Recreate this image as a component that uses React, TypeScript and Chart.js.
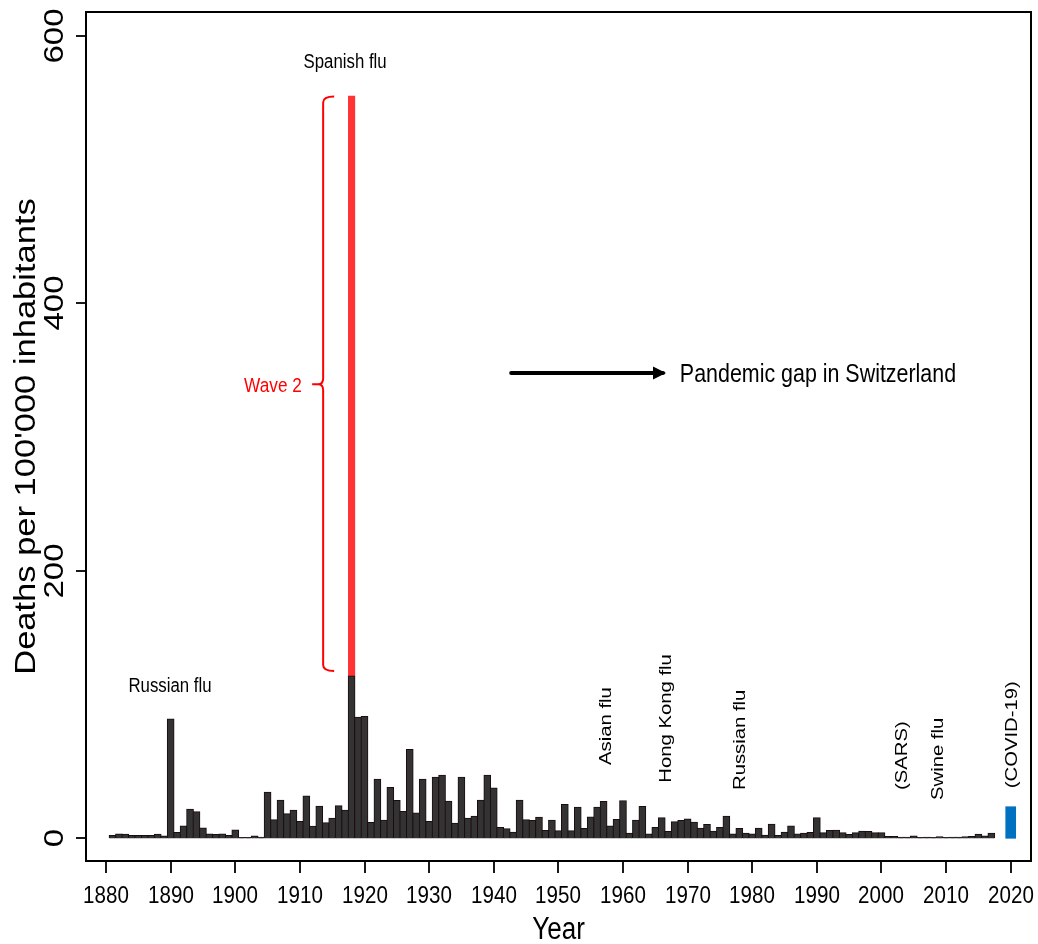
import React, { useEffect, useRef } from 'react';
import { Chart, registerables } from 'chart.js';

Chart.register(...registerables);

// ---- Data ----
const firstYear = 1881;
// Influenza deaths per 100'000 inhabitants, 1881 .. 2017
const deaths = [
  2, 3.2, 3, 2, 2, 2, 2, 3, 1.7, 89, // 1881-1890
  4.2, 9.2, 21.7, 19.7, 7.7, 3.2, 2.7, 3.2, 2, 6.2, // 1891-1900
  0.5, 0.5, 1.7, 0.7, 34.4, 13.7, 28.4, 18.2, 20.9, 12.5, // 1901-1910
  31.6, 9, 23.9, 11.5, 15, 24.2, 20.9, 121.3, 90.4, 90.9, // 1911-1920
  11.7, 44, 13.4, 37.9, 28.1, 19.9, 66.3, 18.9, 44, 12.5, // 1921-1930
  45.6, 47.1, 27.6, 11.2, 45.6, 15, 16.4, 28.4, 47.1, 37.6, // 1931-1940
  8, 7, 4.5, 28.4, 13.7, 13.2, 15.7, 5.7, 13.4, 5.5, // 1941-1950
  25.2, 5.5, 23.2, 7.2, 15.9, 23.2, 27.4, 9.2, 13.9, 27.9, // 1951-1960
  3.7, 13.4, 23.7, 3.2, 8, 15.2, 5, 12.2, 13.2, 14.4, // 1961-1970
  12, 7.5, 10.2, 5.2, 8, 16.4, 3.2, 7.2, 3.7, 3.2, // 1971-1980
  7.5, 2.2, 10.5, 2, 4.5, 9.2, 3.2, 3.7, 4.2, 15.2, // 1981-1990
  4, 5.7, 6, 4, 2.7, 4, 5.2, 5, 4, 4, // 1991-2000
  1.2, 1.2, 0.7, 0.7, 1.7, 0.5, 0.7, 0.5, 1, 0.5, // 2001-2010
  0.7, 0.7, 1, 1.2, 3, 1.7, 3.7, // 2011-2017
];
const wave2Year = 1918;
const wave2Deaths = 433.5;
const covidYear = 2020;
const covidDeaths = 23.6;

const xTicks = [1880, 1890, 1900, 1910, 1920, 1930, 1940, 1950, 1960, 1970, 1980, 1990, 2000, 2010, 2020];
const yTicks = [0, 200, 400, 600];

const years = deaths.map((_, i) => firstYear + i);

// Annotations (data coordinates)
const flatLabels = [
  { text: 'Spanish flu', x: 1917, y: 576, align: 'center' as CanvasTextAlign, color: '#000', size: 20 },
  { text: 'Russian flu', x: 1889.9, y: 109.6, align: 'center' as CanvasTextAlign, color: '#000', size: 20 },
  { text: 'Wave 2', x: 1910.3, y: 333.8, align: 'right' as CanvasTextAlign, color: '#ff0000', size: 20.5 },
  { text: 'Pandemic gap in Switzerland', x: 1968.8, y: 341, align: 'left' as CanvasTextAlign, color: '#000', size: 25.5 },
];
const rotLabels = [
  { text: 'Asian flu', x: 1958.2, y: 54.8 },
  { text: 'Hong Kong flu', x: 1967.5, y: 41.6 },
  { text: 'Russian flu', x: 1978.9, y: 36.1 },
  { text: '(SARS)', x: 2003.9, y: 36.1 },
  { text: 'Swine flu', x: 2009.5, y: 28.6 },
  { text: '(COVID-19)', x: 2021.0, y: 37.4 },
];

const SQ = 0.84;
const FONT = '"Liberation Sans", Arial, Helvetica, sans-serif';

function drawText(
  ctx: CanvasRenderingContext2D,
  s: string,
  x: number,
  y: number,
  size: number,
  align: CanvasTextAlign,
  color: string,
  rot = false,
  baseline: CanvasTextBaseline = 'alphabetic'
) {
  ctx.save();
  ctx.translate(x, y);
  ctx.scale(SQ, 1);
  if (rot) ctx.rotate(-Math.PI / 2);
  ctx.font = `${size}px ${FONT}`;
  ctx.fillStyle = color;
  ctx.textAlign = align;
  ctx.textBaseline = baseline;
  ctx.fillText(s, 0, 0);
  ctx.restore();
}

const decorPlugin = {
  id: 'decor',
  afterDraw(chart: any) {
    const ctx: CanvasRenderingContext2D = chart.ctx;
    const xs = chart.scales.x;
    const ys = chart.scales.y;
    const { left, right, top, bottom } = chart.chartArea;
    const X = (v: number) => xs.getPixelForValue(v);
    const Y = (v: number) => ys.getPixelForValue(v);

    ctx.save();
    // box
    ctx.strokeStyle = '#000';
    ctx.lineWidth = 2;
    ctx.strokeRect(left, top, right - left, bottom - top);

    // x ticks
    ctx.lineWidth = 1.8;
    xTicks.forEach((t) => {
      const px = Math.round(X(t));
      ctx.beginPath();
      ctx.moveTo(px, bottom);
      ctx.lineTo(px, bottom + 12);
      ctx.stroke();
      drawText(ctx, String(t), px, bottom + 42, 24.5, 'center', '#000');
    });
    // y ticks
    yTicks.forEach((t) => {
      const py = Math.round(Y(t));
      ctx.beginPath();
      ctx.moveTo(left - 10, py);
      ctx.lineTo(left, py);
      ctx.stroke();
      drawText(ctx, String(t), left - 23, py, 33, 'center', '#000', true);
    });
    // axis titles
    drawText(ctx, 'Year', (left + right) / 2, bottom + 78, 31, 'center', '#000');
    drawText(ctx, "Deaths per 100'000 inhabitants", 35, (top + bottom) / 2, 34.5, 'center', '#000', true);

    // annotations
    flatLabels.forEach((l) => drawText(ctx, l.text, X(l.x), Y(l.y), l.size, l.align, l.color));
    rotLabels.forEach((l) => drawText(ctx, l.text, X(l.x), Y(l.y), 20.3, 'left', '#000', true));

    // brace for wave 2
    const bx = X(1913.6);
    const bt = Y(554.5);
    const bb = Y(125);
    const bm = Y(339.3);
    ctx.strokeStyle = '#ff0000';
    ctx.lineWidth = 2;
    ctx.beginPath();
    ctx.moveTo(bx + 11, bt);
    ctx.quadraticCurveTo(bx, bt, bx, bt + 6);
    ctx.lineTo(bx, bm - 6);
    ctx.quadraticCurveTo(bx, bm, bx - 5, bm);
    ctx.lineTo(bx - 11, bm);
    ctx.moveTo(bx - 5, bm);
    ctx.quadraticCurveTo(bx, bm, bx, bm + 6);
    ctx.lineTo(bx, bb - 6);
    ctx.quadraticCurveTo(bx, bb, bx + 11, bb);
    ctx.stroke();

    // arrow
    const ax1 = X(1942.7);
    const ax2 = X(1966.5);
    const ay = Y(347.8);
    ctx.strokeStyle = '#000';
    ctx.lineWidth = 4;
    ctx.lineCap = 'round';
    ctx.beginPath();
    ctx.moveTo(ax1, ay);
    ctx.lineTo(ax2 - 2, ay);
    ctx.stroke();
    ctx.fillStyle = '#000';
    ctx.beginPath();
    ctx.moveTo(ax2 + 1, ay);
    ctx.lineTo(ax2 - 12, ay - 6.5);
    ctx.lineTo(ax2 - 12, ay + 6.5);
    ctx.closePath();
    ctx.fill();
    ctx.restore();
  },
};

export default function App() {
  const ref = useRef<HTMLCanvasElement | null>(null);
  useEffect(() => {
    if (!ref.current) return;
    const chart = new Chart(ref.current, {
      type: 'bar',
      data: {
        datasets: [
          {
            label: 'Deaths',
            data: years.map((y, i) => ({ x: y, y: deaths[i] })),
            backgroundColor: '#333333',
            borderColor: '#1c0c0c',
            borderWidth: 1,
            inflateAmount: 0.6,
            barPercentage: 1,
            categoryPercentage: 1,
            stack: 's',
          },
          {
            label: 'Wave 2',
            data: [{ x: wave2Year, y: wave2Deaths }],
            backgroundColor: '#ff3333',
            borderWidth: 0,
            barPercentage: 1,
            categoryPercentage: 1,
            stack: 's',
          },
          {
            label: 'COVID-19',
            data: [{ x: covidYear, y: covidDeaths }],
            backgroundColor: '#0070c0',
            borderWidth: 0,
            barThickness: 10,
            stack: 's',
          },
        ] as any,
      },
      options: {
        responsive: false,
        animation: false,
        layout: { padding: { left: 86, top: 12, right: 7, bottom: 83 } },
        plugins: { legend: { display: false }, tooltip: { enabled: false } },
        scales: {
          x: { type: 'linear', min: 1876.9, max: 2023.14, display: false, stacked: true, offset: false },
          y: { type: 'linear', min: -16.97, max: 617.6, display: false, stacked: true },
        },
      } as any,
      plugins: [decorPlugin],
    });
    return () => chart.destroy();
  }, []);
  return (
    <div style={{ position: 'absolute', left: 0, top: 0, width: 1038, height: 944, background: '#fff' }}>
      <canvas ref={ref} width={1038} height={944} style={{ width: 1038, height: 944 }} />
    </div>
  );
}
